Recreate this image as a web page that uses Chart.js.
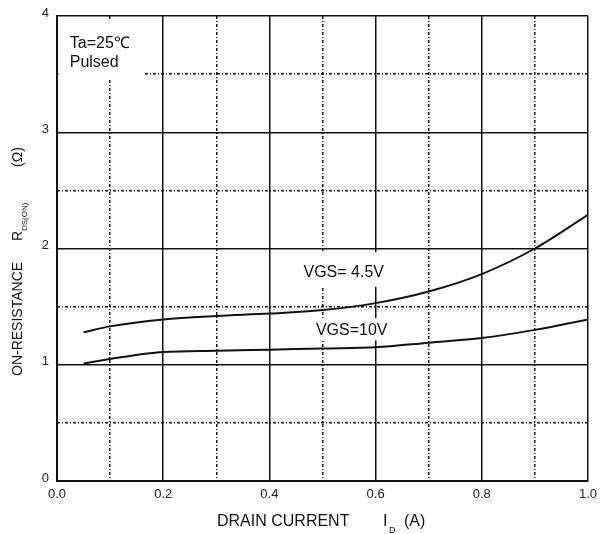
<!DOCTYPE html>
<html>
<head>
<meta charset="utf-8">
<script src="https://cdn.jsdelivr.net/npm/chart.js@4.4.0/dist/chart.umd.min.js"></script>
<style>
  html, body { margin: 0; padding: 0; background: #fff; }
  #wrap { width: 603px; height: 534px; }
</style>
</head>
<body>
<div id="wrap"><canvas id="myChart" width="603" height="534"></canvas></div>
<script>
// drain current (A)
var drainCurrent = [0.05, 0.1, 0.2, 0.3, 0.4, 0.5, 0.6, 0.7, 0.8, 0.9, 1.0];
// on-resistance (ohm)
var vgs45 = [1.28, 1.33, 1.39, 1.42, 1.44, 1.47, 1.53, 1.63, 1.78, 2.00, 2.29];
var vgs10 = [1.01, 1.05, 1.11, 1.12, 1.13, 1.14, 1.15, 1.19, 1.23, 1.30, 1.39];

var xTicks = [0, 0.2, 0.4, 0.6, 0.8, 1.0];
var yTicks = [0, 1, 2, 3, 4];

var FONT = '"Liberation Sans", Arial, sans-serif';

function points(ys) {
    return drainCurrent.map(function (x, i) { return { x: x, y: ys[i] }; });
}

// text notes with a white box under them (data units)
var notes = [
    { box: [0.0, 3.46, 0.165, 3.97], lines: [['Ta=25\u2103', 0.024, 3.76], ['Pulsed', 0.024, 3.60]], align: 'left' },
    { box: [0.452, 1.67, 0.625, 1.97], lines: [['VGS= 4.5V', 0.54, 1.79]], align: 'center' },
    { box: [0.478, 1.21, 0.628, 1.40], lines: [['VGS=10V', 0.555, 1.29]], align: 'center' }
];

var notesPlugin = {
    id: 'notes',
    beforeDatasetsDraw: function (chart) {
        var ctx = chart.ctx, xs = chart.scales.x, ys = chart.scales.y;
        ctx.save();
        notes.forEach(function (n) {
            var x0 = Math.max(xs.getPixelForValue(n.box[0]), chart.chartArea.left + 1.5);
            var y0 = ys.getPixelForValue(n.box[3]);
            var x1 = xs.getPixelForValue(n.box[2]), y1 = ys.getPixelForValue(n.box[1]);
            ctx.fillStyle = '#fff';
            ctx.fillRect(x0, y0, x1 - x0, y1 - y0);
            ctx.fillStyle = '#111';
            ctx.font = '16px ' + FONT;
            ctx.textAlign = n.align;
            ctx.textBaseline = 'middle';
            n.lines.forEach(function (l) {
                ctx.fillText(l[0], xs.getPixelForValue(l[1]), ys.getPixelForValue(l[2]));
            });
        });
        ctx.restore();
    }
};

// axis titles with subscripts
var axisTitles = {
    id: 'axisTitles',
    afterDraw: function (chart) {
        var ctx = chart.ctx;
        ctx.save();
        ctx.fillStyle = '#111';
        ctx.textBaseline = 'middle';
        ctx.textAlign = 'left';

        // x title
        var y = 522;
        ctx.font = '16px ' + FONT;
        ctx.fillText('DRAIN CURRENT', 217, y);
        ctx.fillText('I', 383, y);
        ctx.font = '9px ' + FONT;
        ctx.fillText('D', 389, y + 9);
        ctx.font = '16px ' + FONT;
        ctx.fillText('(A)', 404, y);

        // y title, rotated
        ctx.translate(18, 0);
        ctx.rotate(-Math.PI / 2);
        ctx.font = '14px ' + FONT;
        ctx.fillText('ON-RESISTANCE', -376, 0);
        ctx.fillText('R', -241, 0);
        ctx.font = '8px ' + FONT;
        ctx.fillText('DS(ON)', -231, 7);
        ctx.font = '14px ' + FONT;
        ctx.fillText('(\u03a9)', -167, 0);
        ctx.restore();
    }
};

var ctx = document.getElementById('myChart').getContext('2d');
var chart = new Chart(ctx, {
    type: 'line',
    data: {
        datasets: [{
            label: 'VGS= 4.5V',
            data: points(vgs45),
            borderColor: '#111',
            borderWidth: 2,
            pointRadius: 0,
            cubicInterpolationMode: 'monotone'
        }, {
            label: 'VGS=10V',
            data: points(vgs10),
            borderColor: '#111',
            borderWidth: 2,
            pointRadius: 0,
            cubicInterpolationMode: 'monotone'
        }]
    },
    options: {
        responsive: false,
        animation: false,
        layout: { padding: { left: 0, right: 13, top: 16, bottom: 0 } },
        plugins: {
            legend: { display: false },
            tooltip: { enabled: false }
        },
        scales: {
            x: {
                type: 'linear',
                position: 'bottom',
                min: 0, max: 1,
                afterBuildTicks: function (s) { s.ticks = xTicks.map(function (v) { return { value: v }; }); },
                ticks: {
                    padding: 6,
                    color: '#222',
                    font: { family: FONT, size: 13 },
                    maxRotation: 0,
                    callback: function (v) { return Number(v).toFixed(1); }
                },
                grid: { color: '#111', lineWidth: 1.5, drawTicks: false },
                border: { color: '#111', width: 2 },
                afterFit: function (s) { s.height = 53; }
            },
            x2: {
                type: 'linear',
                position: 'bottom',
                min: 0, max: 1,
                ticks: { display: false, stepSize: 0.1 },
                grid: {
                    drawTicks: false,
                    lineWidth: 1.5,
                    color: function (c) {
                        return Math.round(c.tick.value * 10) % 2 === 1 ? '#111' : 'rgba(0,0,0,0)';
                    }
                },
                border: { display: false, dash: [3, 2, 1, 2] }
            },
            y: {
                type: 'linear',
                position: 'left',
                min: 0, max: 4,
                afterBuildTicks: function (s) { s.ticks = yTicks.map(function (v) { return { value: v }; }); },
                ticks: {
                    padding: 8,
                    labelOffset: -3,
                    color: '#222',
                    font: { family: FONT, size: 13 }
                },
                grid: { color: '#111', lineWidth: 1.5, drawTicks: false },
                border: { color: '#111', width: 2 },
                afterFit: function (s) { s.width = 57; }
            },
            y2: {
                type: 'linear',
                position: 'left',
                min: 0, max: 4,
                ticks: { display: false, stepSize: 0.5 },
                grid: {
                    drawTicks: false,
                    lineWidth: 1.5,
                    color: function (c) {
                        return Math.round(c.tick.value * 2) % 2 === 1 ? '#111' : 'rgba(0,0,0,0)';
                    }
                },
                border: { display: false, dash: [3, 2, 1, 2] }
            }
        }
    },
    plugins: [notesPlugin, axisTitles]
});
</script>
</body>
</html>
